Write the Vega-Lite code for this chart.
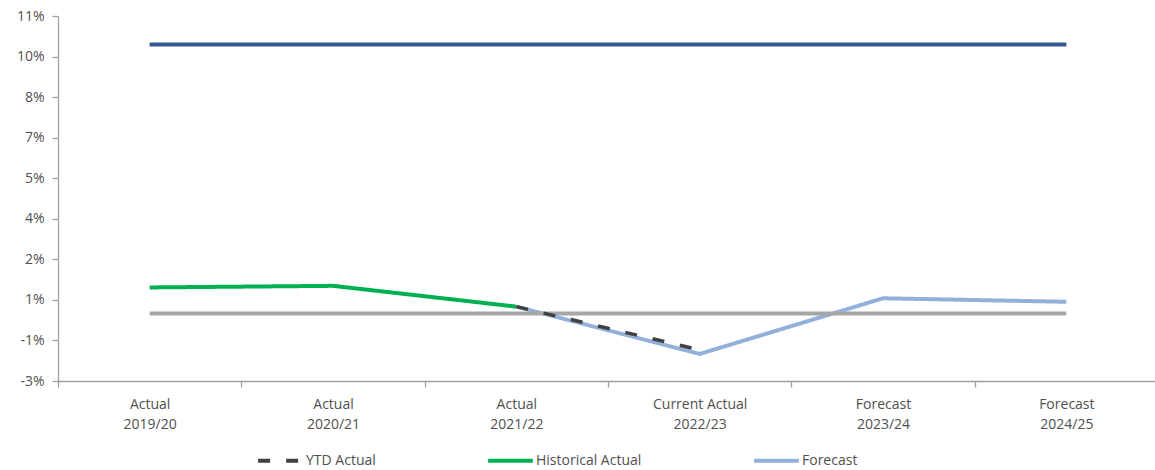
{
  "$schema": "https://vega.github.io/schema/vega-lite/v6.json",
  "width": 1100,
  "height": 365,
  "autosize": "none",
  "padding": {"left": 58, "top": 16, "right": 0, "bottom": 89},
  "background": "white",
  "config": {
    "font": "Open Sans",
    "view": {"stroke": null},
    "axis": {
      "labelFont": "Open Sans",
      "labelFontSize": 14,
      "labelColor": "#505050",
      "domainColor": "#A0A0A0",
      "tickColor": "#A0A0A0",
      "domainWidth": 1.3,
      "tickWidth": 1.3,
      "grid": false,
      "title": null
    }
  },
  "data": {
    "values": [
      {"period": "Actual|2019/20", "series": "Upper limit", "value": 9.95},
      {"period": "Actual|2020/21", "series": "Upper limit", "value": 9.95},
      {"period": "Actual|2021/22", "series": "Upper limit", "value": 9.95},
      {"period": "Current Actual|2022/23", "series": "Upper limit", "value": 9.95},
      {"period": "Forecast|2023/24", "series": "Upper limit", "value": 9.95},
      {"period": "Forecast|2024/25", "series": "Upper limit", "value": 9.95},
      {"period": "Actual|2019/20", "series": "Zero line", "value": 0},
      {"period": "Actual|2020/21", "series": "Zero line", "value": 0},
      {"period": "Actual|2021/22", "series": "Zero line", "value": 0},
      {"period": "Current Actual|2022/23", "series": "Zero line", "value": 0},
      {"period": "Forecast|2023/24", "series": "Zero line", "value": 0},
      {"period": "Forecast|2024/25", "series": "Zero line", "value": 0},
      {"period": "Actual|2019/20", "series": "Historical Actual", "value": 0.96},
      {"period": "Actual|2020/21", "series": "Historical Actual", "value": 1.02},
      {"period": "Actual|2021/22", "series": "Historical Actual", "value": 0.25},
      {"period": "Actual|2021/22", "series": "Forecast", "value": 0.25},
      {"period": "Current Actual|2022/23", "series": "Forecast", "value": -1.5},
      {"period": "Forecast|2023/24", "series": "Forecast", "value": 0.56},
      {"period": "Forecast|2024/25", "series": "Forecast", "value": 0.43},
      {"period": "Actual|2021/22", "series": "YTD Actual", "value": 0.25},
      {"period": "Current Actual|2022/23", "series": "YTD Actual", "value": -1.35}
    ]
  },
  "encoding": {
    "x": {
      "field": "period",
      "type": "nominal",
      "sort": null,
      "bandPosition": 0.5,
      "scale": {"type": "band", "paddingInner": 0, "paddingOuter": 0},
      "axis": {
        "labelExpr": "isValid(datum.value) ? split(datum.value, '|') : ''",
        "labelAngle": 0,
        "labelLineHeight": 20,
        "labelPadding": 10,
        "labelBaseline": "top",
        "tickSize": 6,
        "tickBand": "extent"
      }
    },
    "y": {
      "field": "value",
      "type": "quantitative",
      "scale": {"domain": [-2.5, 11], "nice": false, "zero": false},
      "axis": {
        "values": [-2.5, -1, 0.5, 2, 3.5, 5, 6.5, 8, 9.5, 11],
        "labelExpr": "(datum.value < 0 ? '-' : '') + round(abs(datum.value)) + '%'",
        "tickSize": 6,
        "labelPadding": 8
      }
    },
    "color": {
      "field": "series",
      "type": "nominal",
      "scale": {
        "domain": ["YTD Actual", "Historical Actual", "Forecast", "Upper limit", "Zero line"],
        "range": ["#404040", "#00B050", "#92B0DA", "#335A92", "#A6A6A6"]
      },
      "legend": {
        "values": ["YTD Actual", "Historical Actual", "Forecast"],
        "title": null,
        "orient": "none",
        "direction": "horizontal",
        "legendX": 198,
        "legendY": 420,
        "symbolType": "stroke",
        "symbolSize": 2000,
        "symbolStrokeWidth": 4,
        "labelFont": "Open Sans",
        "labelFontSize": 14,
        "labelColor": "#505050",
        "labelOffset": 1,
        "columnPadding": 104,
        "padding": 0
      }
    },
    "strokeDash": {
      "field": "series",
      "type": "nominal",
      "scale": {
        "domain": ["YTD Actual", "Historical Actual", "Forecast", "Upper limit", "Zero line"],
        "range": [[12, 16], [1, 0], [1, 0], [1, 0], [1, 0]]
      },
      "legend": {
        "values": ["YTD Actual", "Historical Actual", "Forecast"],
        "title": null,
        "orient": "none",
        "direction": "horizontal",
        "legendX": 198,
        "legendY": 420,
        "symbolType": "stroke",
        "symbolSize": 2000,
        "symbolStrokeWidth": 4,
        "labelFont": "Open Sans",
        "labelFontSize": 14,
        "labelColor": "#505050",
        "labelOffset": 1,
        "columnPadding": 104,
        "padding": 0
      }
    }
  },
  "layer": [
    {
      "transform": [{"filter": "datum.series === 'Upper limit' || datum.series === 'Historical Actual' || datum.series === 'Forecast'"}],
      "mark": {"type": "line", "strokeWidth": 4, "strokeCap": "butt"}
    },
    {
      "transform": [{"filter": "datum.series === 'Zero line'"}],
      "mark": {"type": "line", "strokeWidth": 4, "strokeCap": "butt"}
    },
    {
      "transform": [{"filter": "datum.series === 'YTD Actual'"}],
      "mark": {"type": "line", "strokeWidth": 3.5, "strokeCap": "butt"}
    }
  ]
}
